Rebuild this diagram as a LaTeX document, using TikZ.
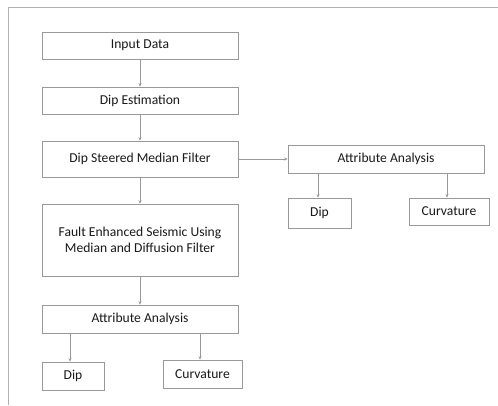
\documentclass[tikz,border=0pt]{standalone}
\usepackage{fontspec}
\setmainfont{Carlito}
\usetikzlibrary{arrows.meta,positioning,calc}

\begin{document}
\begin{tikzpicture}[x=1pt, y=-1pt,
    stepbox/.style={draw=gray!80, line width=0.6pt, fill=white, align=center,
        inner sep=2pt, font=\fontsize{13.6}{16.5}\selectfont, text=black!90},
    flow/.style={draw=gray!80, line width=0.6pt, -{Stealth[length=3.5pt,width=3pt]}}]
    \useasboundingbox (0, 0) rectangle (498, 405);

    % frame
    \draw[gray!60, line width=0.6pt] (8, 405) -- (8, 7) -- (498, 7);

    % main column
    \node[stepbox, minimum width=196pt, minimum height=27pt] (input) at (140, 45.5) {Input Data};
    \node[stepbox, minimum width=196pt, minimum height=27pt] (dipest) at (140, 100.5) {Dip Estimation};
    \node[stepbox, minimum width=196pt, minimum height=36pt] (median) at (140, 159) {Dip Steered Median Filter};
    \node[stepbox, minimum width=196pt, minimum height=72pt] (fault) at (140, 240)
        {Fault Enhanced Seismic Using\\Median and Diffusion Filter};
    \node[stepbox, minimum width=196pt, minimum height=28pt] (attrB) at (140, 319) {Attribute Analysis};
    \node[stepbox, minimum width=62pt, minimum height=28pt] (dipB) at (73, 376) {Dip};
    \node[stepbox, minimum width=79pt, minimum height=28pt] (curvB) at (202.5, 374) {Curvature};

    % right branch
    \node[stepbox, minimum width=196pt, minimum height=28pt] (attrR) at (386, 159) {Attribute Analysis};
    \node[stepbox, minimum width=63pt, minimum height=30pt] (dipR) at (319.5, 213) {Dip};
    \node[stepbox, minimum width=80pt, minimum height=27pt] (curvR) at (449, 211.5) {Curvature};

    % connectors
    \draw[flow] (input) -- (dipest);
    \draw[flow] (dipest) -- (median);
    \draw[flow] (median) -- (fault);
    \draw[flow] (fault) -- (attrB);
    \draw[flow] (median) -- (attrR);
    \draw[flow] ([xshift=-1.5pt]dipR.north |- attrR.south) -- ([xshift=-1.5pt]dipR.north);
    \draw[flow] ([xshift=-2pt]curvR.north |- attrR.south) -- ([xshift=-2pt]curvR.north);
    \draw[flow] ([xshift=-3pt]dipB.north |- attrB.south) -- ([xshift=-3pt]dipB.north);
    \draw[flow] ([xshift=-2.5pt]curvB.north |- attrB.south) -- ([xshift=-2.5pt]curvB.north);
\end{tikzpicture}
\end{document}
